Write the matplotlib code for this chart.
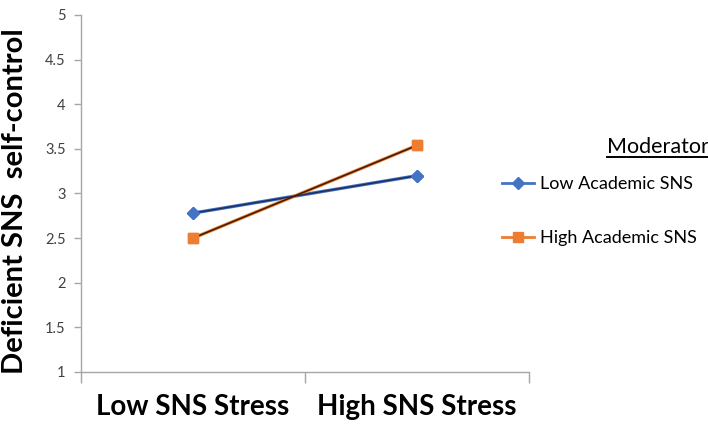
import numpy as np
import matplotlib.pyplot as plt
from matplotlib.lines import Line2D

plt.rcParams['font.family'] = ['Lato', 'DejaVu Sans']

categories = ['Low SNS Stress', 'High SNS Stress']
low_academic = [2.78, 3.20]
high_academic = [2.50, 3.54]
series_names = ['Low Academic SNS', 'High Academic SNS']

fig = plt.figure(figsize=(7.08, 4.26), dpi=100)
ax = fig.add_axes([0.1144, 0.1268, 0.633, 0.838])

x = np.arange(len(categories)) + 1
# coloured line with a dark core, like the original
ax.plot(x, low_academic, color='#4472C4', lw=2.4, marker='D', ms=6.5,
        label=series_names[0], zorder=3)
ax.plot(x, low_academic, color='#1F2F5C', lw=1.1, zorder=4)
ax.plot(x, high_academic, color='#ED7D31', lw=2.4, marker='s', ms=7.5,
        label=series_names[1], zorder=3)
ax.plot(x, high_academic, color='#3A1A08', lw=1.1, zorder=4)
# markers on top
ax.plot(x, low_academic, ls='none', marker='D', ms=6.5, color='#4472C4', zorder=5)
ax.plot(x, high_academic, ls='none', marker='s', ms=7.5, color='#ED7D31', zorder=5)

ax.set_xlim(0.5, 2.5)
ax.set_ylim(1, 5)
ax.set_yticks(np.arange(1, 5.01, 0.5))
ax.set_yticklabels(['1', '1.5', '2', '2.5', '3', '3.5', '4', '4.5', '5'])
ax.set_xticks([0.5, 1.5, 2.5])
ax.set_xticklabels([])
ax.set_xticks(x, minor=True)
ax.set_xticklabels(categories, minor=True, fontsize=20, fontweight='bold')
ax.tick_params(axis='x', which='minor', length=0, pad=16)
ax.tick_params(axis='x', which='major', length=8, color='#A6A6A6', width=1)
ax.tick_params(axis='y', length=5, color='#A6A6A6', width=1, labelsize=10.5,
               labelcolor='#404040', pad=6)

for s in ['top', 'right']:
    ax.spines[s].set_visible(False)
for s in ['left', 'bottom']:
    ax.spines[s].set_color('#A6A6A6')
    ax.spines[s].set_linewidth(1)

ax.set_ylabel('Deficient SNS  self-control', fontsize=21, fontweight='bold')
ax.yaxis.set_label_coords(-0.118, 0.48)

handles = [Line2D([], [], color='#4472C4', lw=2, marker='D', ms=6),
           Line2D([], [], color='#ED7D31', lw=2, marker='s', ms=7)]
ax.legend(handles, series_names, loc='upper left', bbox_to_anchor=(0.686, 0.625),
          bbox_transform=fig.transFigure, frameon=False, fontsize=13,
          handlelength=1.8, handletextpad=0.3, labelspacing=2.1)

fig.text(0.857, 0.641, 'Moderator', fontsize=15.5, ha='left', va='baseline')
fig.add_artist(Line2D([0.857, 1.0], [0.632, 0.632], color='black', lw=1.4,
                      transform=fig.transFigure))

fig.savefig('out.png', dpi=100)
